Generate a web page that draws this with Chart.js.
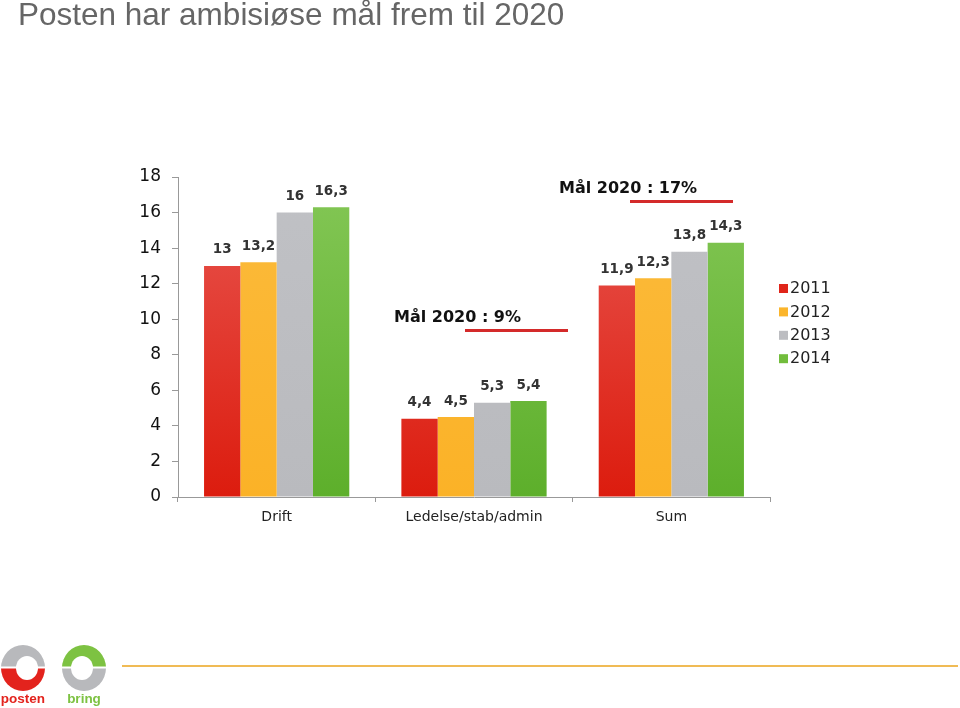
<!DOCTYPE html>
<html>
<head>
<meta charset="utf-8">
<script src="https://cdn.jsdelivr.net/npm/chart.js@4/dist/chart.umd.min.js"></script>
<style>
  html, body { margin: 0; padding: 0; background: #fff; }
  body { width: 960px; height: 708px; position: relative; overflow: hidden; }
  #title { position: absolute; left: 18px; top: -4px; font-family: "Liberation Sans", Arial, sans-serif; font-size: 31.5px; color: #666; white-space: nowrap; }
  #wrap { position: absolute; left: 0; top: 0; width: 960px; height: 708px; }
  .goal { position: absolute; font-family: "DejaVu Sans", Verdana, sans-serif; font-weight: bold; font-size: 16px; color: #111; white-space: nowrap; }
  .goalline { position: absolute; height: 3px; background: #d42a2a; }
  #footline { position: absolute; left: 122px; top: 665px; width: 836px; height: 1.5px; background: #f0bb55; }
  #logos { position: absolute; left: 0; top: 642px; }
</style>
</head>
<body>
<div id="wrap"><canvas id="myChart" width="960" height="708"></canvas></div>
<div id="title">Posten har ambisiøse mål frem til 2020</div>
<div class="goal" style="left:394px; top:307px;">Mål 2020 : 9%</div>
<div class="goalline" style="left:465px; top:329px; width:103px;"></div>
<div class="goal" style="left:559px; top:178px;">Mål 2020 : 17%</div>
<div class="goalline" style="left:630px; top:200px; width:103px;"></div>
<div id="footline"></div>
<svg id="logos" width="110" height="66" viewBox="0 0 110 66">
  <!-- posten -->
  <path d="M1 26 A22 23 0 0 1 45 26 Z" fill="#b8b9bc"/>
  <path d="M1 26 A22 23 0 0 0 45 26 Z" fill="#e3231d"/>
  <ellipse cx="27" cy="26" rx="11" ry="12" fill="#fff"/>
  <rect x="1" y="24.5" width="44" height="2" fill="#fff"/>
  <text x="23" y="61" text-anchor="middle" font-family="Liberation Sans, Arial" font-weight="bold" font-size="13.5" fill="#e3231d">posten</text>
  <!-- bring -->
  <path d="M62 26 A22 23 0 0 1 106 26 Z" fill="#7dc242"/>
  <path d="M62 26 A22 23 0 0 0 106 26 Z" fill="#b8b9bc"/>
  <ellipse cx="82" cy="26" rx="11" ry="12" fill="#fff"/>
  <rect x="62" y="24.5" width="44" height="2" fill="#fff"/>
  <text x="84" y="61" text-anchor="middle" font-family="Liberation Sans, Arial" font-weight="bold" font-size="13.5" fill="#7dc242">bring</text>
</svg>
<script>
// kategorier og verdier lest av bildet
var categories = ['Drift', 'Ledelse/stab/admin', 'Sum'];
var years = ['2011', '2012', '2013', '2014'];
var v2011 = [13, 4.4, 11.9];
var v2012 = [13.2, 4.5, 12.3];
var v2013 = [16, 5.3, 13.8];
var v2014 = [16.3, 5.4, 14.3];
var yTicks = [0, 2, 4, 6, 8, 10, 12, 14, 16, 18];

// farger: topp / bunn for gradient
var colTop = ['#e85650', '#fbbb3c', '#c0c1c5', '#84c756'];
var colBot = ['#dc1c0e', '#fbb227', '#b9babe', '#5daf2b'];
var legendCol = ['#e0251a', '#fbb52c', '#bcbdc1', '#72bd3c'];

function grad(i) {
    return function (c) {
        var chart = c.chart;
        var area = chart.chartArea;
        if (!area) return colBot[i];
        var g = chart.ctx.createLinearGradient(0, area.top, 0, area.bottom);
        g.addColorStop(0, colTop[i]);
        g.addColorStop(1, colBot[i]);
        return g;
    };
}

var valueLabels = {
    id: 'valueLabels',
    afterDatasetsDraw: function (chart) {
        var ctx = chart.ctx;
        ctx.save();
        ctx.font = 'bold 13.5px "DejaVu Sans", Verdana, sans-serif';
        ctx.fillStyle = '#333';
        ctx.textAlign = 'center';
        ctx.textBaseline = 'middle';
        chart.data.datasets.forEach(function (ds, i) {
            chart.getDatasetMeta(i).data.forEach(function (bar, j) {
                ctx.fillText(String(ds.data[j]).replace('.', ','), bar.x, bar.y - 16);
            });
        });
        ctx.restore();
    }
};

var sideLegend = {
    id: 'sideLegend',
    afterDraw: function (chart) {
        var ctx = chart.ctx;
        ctx.save();
        ctx.font = '16px "DejaVu Sans", Verdana, sans-serif';
        ctx.textBaseline = 'middle';
        chart.data.datasets.forEach(function (ds, i) {
            var y = 288 + i * 23.4;
            ctx.fillStyle = legendCol[i];
            ctx.fillRect(779, y - 4, 9, 9);
            ctx.fillStyle = '#222';
            ctx.fillText(ds.label, 790, y + 1);
        });
        ctx.restore();
    }
};

var datasets = [v2011, v2012, v2013, v2014].map(function (d, i) {
    return {
        label: years[i],
        data: d,
        backgroundColor: grad(i),
        borderWidth: 0,
        categoryPercentage: 0.736,
        barPercentage: 1.0
    };
});

var ctx = document.getElementById('myChart').getContext('2d');
var chart = new Chart(ctx, {
    type: 'bar',
    data: { labels: categories, datasets: datasets },
    options: {
        responsive: false,
        animation: false,
        devicePixelRatio: 1,
        layout: { padding: { left: 0, top: 177, right: 190, bottom: 0 } },
        plugins: { legend: { display: false }, tooltip: { enabled: false } },
        scales: {
            x: {
                afterFit: function (s) { s.height = 211; },
                grid: { drawOnChartArea: false, drawTicks: true, tickLength: 5, color: '#999', offset: true },
                border: { display: true, color: '#999', width: 1 },
                ticks: { color: '#222', padding: 7, font: { family: '"DejaVu Sans", Verdana, sans-serif', size: 14 } }
            },
            y: {
                min: 0,
                max: 18,
                afterFit: function (s) { s.width = 178; },
                afterBuildTicks: function (s) { s.ticks = yTicks.map(function (v) { return { value: v }; }); },
                grid: { drawOnChartArea: false, drawTicks: true, tickLength: 6, color: '#999' },
                border: { display: true, color: '#999', width: 1 },
                ticks: { color: '#111', padding: 11, font: { family: '"DejaVu Sans", Verdana, sans-serif', size: 17 } }
            }
        }
    },
    plugins: [valueLabels, sideLegend]
});
</script>
</body>
</html>
